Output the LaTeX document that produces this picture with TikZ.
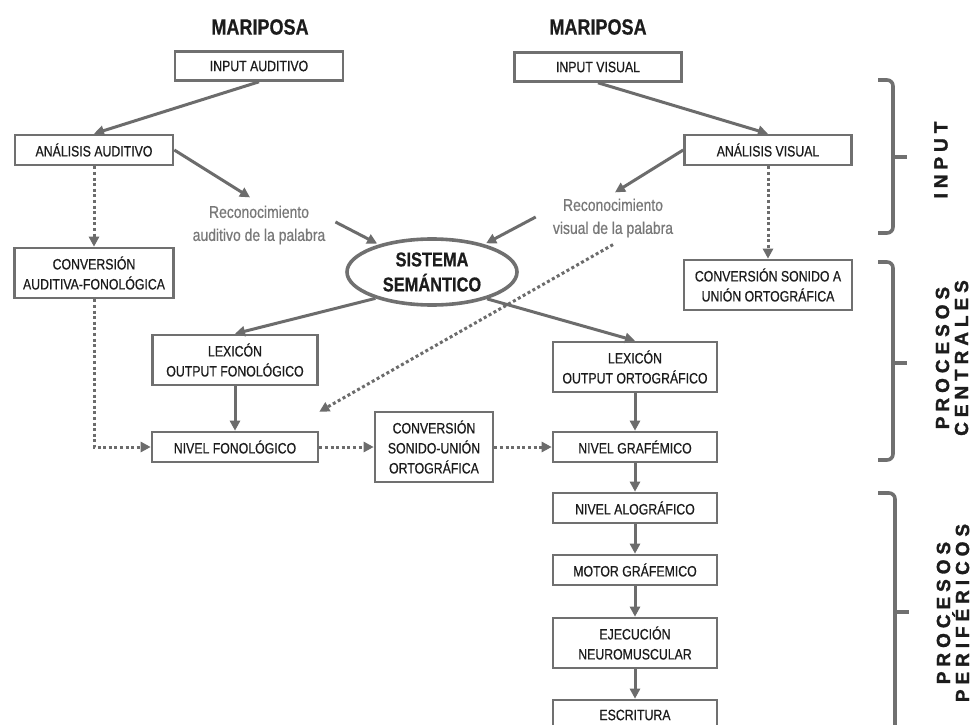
\documentclass[tikz,border=0pt]{standalone}
\usepackage{fontspec}
\setmainfont{Liberation Sans}[FakeStretch=0.82, FakeBold=0.6]
\newfontfamily\sidefont{Liberation Sans Bold}[LetterSpace=26, FakeBold=1.5]
\usetikzlibrary{arrows.meta,shapes.geometric,calc}
\definecolor{linegray}{RGB}{112,112,112}
\definecolor{arrowgray}{RGB}{108,108,108}
\definecolor{ink}{RGB}{28,28,28}
\definecolor{softgray}{RGB}{120,120,120}

\tikzset{
  box/.style={draw=linegray, line width=2.6pt, fill=white, text=ink,
    align=center, inner sep=2pt, font=\fontsize{15}{20}\selectfont},
  title/.style={text=ink, font=\bfseries\fontsize{22}{24}\selectfont},
  reclabel/.style={text=softgray, align=center, inner sep=0pt,
    font=\fontsize{17}{23}\selectfont},
  semnode/.style={ellipse, draw=linegray, line width=3.6pt, text=ink,
    align=center, inner sep=0pt, font=\bfseries\fontsize{20}{25}\selectfont},
  arr/.style={draw=arrowgray, line width=3pt,
    -{Triangle[length=10pt,width=10pt]}},
  dotarr/.style={arr, dash pattern=on 3pt off 2.6pt},
  bracket/.style={draw=linegray, line width=3.6pt, rounded corners=6pt},
  side/.style={text=ink, align=center, inner sep=0pt,
    font=\sidefont\fontsize{19}{19}\selectfont}
}

\begin{document}
\begin{tikzpicture}[x=1pt,y=-1pt]
\useasboundingbox (0,0) rectangle (972,725);
\clip (0,0) rectangle (972,725);
\fill[white] (0,0) rectangle (972,725);

% titles
\node[title] (titA) at (260,27) {MARIPOSA};
\node[title] (titV) at (598,27) {MARIPOSA};

% input stage
\node[box, minimum width=168, minimum height=29] (inA) at (259,66) {INPUT AUDITIVO};
\node[box, minimum width=167, minimum height=29] (inV) at (598,67) {INPUT VISUAL};
\node[box, minimum width=158, minimum height=30] (anA) at (94,150) {ANÁLISIS AUDITIVO};
\node[box, minimum width=167, minimum height=30] (anV) at (768,150) {ANÁLISIS VISUAL};

% word recognition labels
\node[reclabel] (recA) at (259,225) {Reconocimiento\\auditivo de la palabra};
\node[reclabel] (recV) at (613,218) {Reconocimiento\\visual de la palabra};

% semantic system
\node[semnode, minimum width=170, minimum height=66] (sem) at (432,272) {SISTEMA\\SEMÁNTICO};

% conversion boxes
\node[box, minimum width=159, minimum height=50] (convAF) at (94,273) {CONVERSIÓN\\AUDITIVA-FONOLÓGICA};
\node[box, minimum width=168, minimum height=50] (convSV) at (768,285) {CONVERSIÓN SONIDO A\\UNIÓN ORTOGRÁFICA};

% phonological route
\node[box, minimum width=165, minimum height=50] (lexF) at (235,360) {LEXICÓN\\OUTPUT FONOLÓGICO};
\node[box, minimum width=166, minimum height=30] (nivF) at (235,447) {NIVEL FONOLÓGICO};
\node[box, minimum width=118, minimum height=70] (convS) at (434,447) {CONVERSIÓN\\SONIDO-UNIÓN\\ORTOGRÁFICA};

% orthographic route and peripheral processes
\node[box, minimum width=164, minimum height=50] (lexO) at (635,367) {LEXICÓN\\OUTPUT ORTOGRÁFICO};
\node[box, minimum width=164, minimum height=30] (nivG) at (635,447) {NIVEL GRAFÉMICO};
\node[box, minimum width=164, minimum height=30] (nivA) at (635,508) {NIVEL ALOGRÁFICO};
\node[box, minimum width=164, minimum height=30] (motor) at (635,570) {MOTOR GRÁFEMICO};
\node[box, minimum width=164, minimum height=50] (ejec) at (635,643) {EJECUCIÓN\\NEUROMUSCULAR};
\node[box, minimum width=164, minimum height=30] (escr) at (635,715) {ESCRITURA};

% solid connectors
\draw[arr] (inA.south) -- (anA.north);
\draw[arr] (inV.south) -- (anV.north);
\draw[arr] (anA.east) -- ([xshift=-9pt,yshift=8pt]recA.north);
\draw[arr] (anV.west) -- ([xshift=2pt,yshift=6pt]recV.north);
\draw[arr, shorten >=2pt] ([xshift=10pt,yshift=3pt]recA.east) -- (sem);
\draw[arr, shorten >=2pt] ([xshift=-17pt,yshift=1pt]recV.west) -- (sem);
\draw[arr] (sem.-155) -- (lexF.north);
\draw[arr] (sem.-26) -- (lexO.north);
\draw[arr] (lexF.south) -- (nivF.north);
\draw[arr] (lexO.south) -- (nivG.north);
\draw[arr] (nivG.south) -- (nivA.north);
\draw[arr] (nivA.south) -- (motor.north);
\draw[arr] (motor.south) -- (ejec.north);
\draw[arr] (ejec.south) -- (escr.north);

% dotted connectors
\draw[dotarr] (anA.south) -- (convAF.north);
\draw[dotarr] (anV.south) -- (convSV.north);
\draw[dotarr] (convAF.south) |- (nivF.west);
\draw[dotarr] (nivF.east) -- (convS.west);
\draw[dotarr] (convS.east) -- (nivG.west);
\draw[dotarr] ([yshift=-7pt]recV.south) -- ([yshift=19pt]nivF.north east);

% brackets for the processing stages
\draw[bracket] (878,80) -- (893,80) -- (893,233) -- (878,233);
\draw[linegray, line width=3.6pt] (893,157) -- (907,157);
\draw[bracket] (878,262) -- (893,262) -- (893,460) -- (878,460);
\draw[linegray, line width=3.6pt] (893,363) -- (907,363);
\draw[bracket] (878,493) -- (895,493) -- (895,780);
\draw[linegray, line width=3.6pt] (895,612) -- (909,612);

% stage names
\node[side, rotate=90] (lblIn) at (941,160) {INPUT};
\node[side, rotate=90] (lblCen) at (952,358) {PROCESOS\\CENTRALES};
\node[side, rotate=90] (lblPer) at (953,613) {PROCESOS\\PERIFÉRICOS};
\end{tikzpicture}
\end{document}
